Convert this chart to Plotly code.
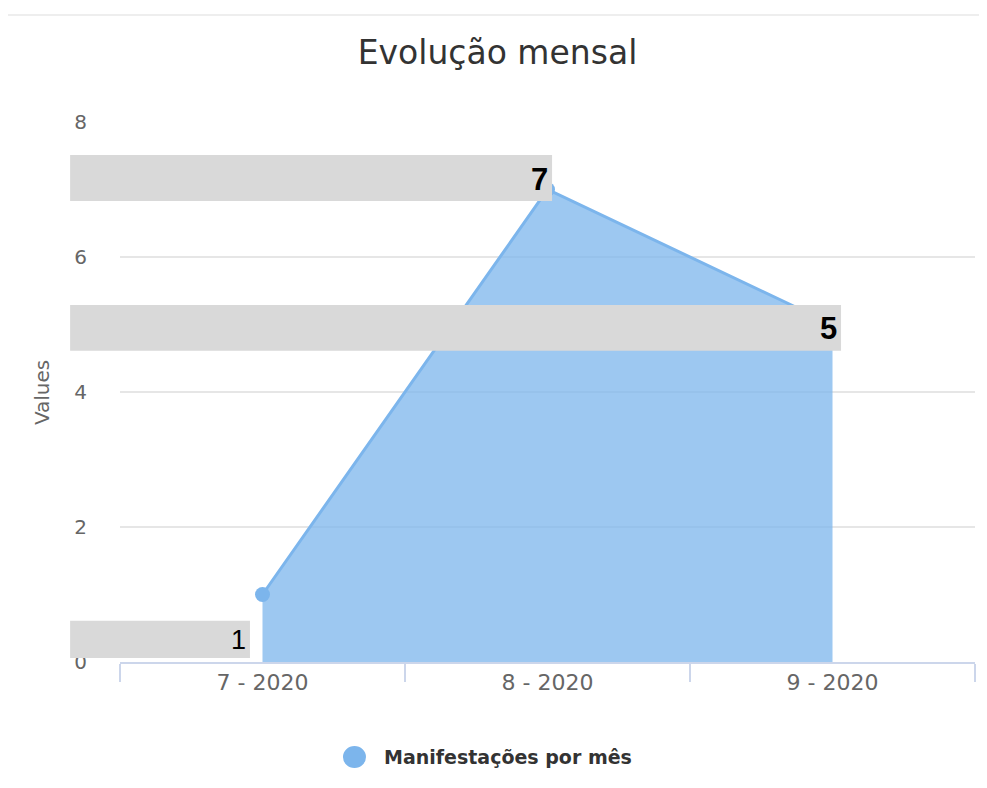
import plotly.graph_objects as go

# Data
months = ["7 - 2020", "8 - 2020", "9 - 2020"]
counts = [1, 7, 5]
series_name = "Manifestações por mês"

# gray label boxes (value shown, bold?, right edge in category units, y span)
box_text = ["7", "5", "1"]
box_bold = [True, True, False]
box_right = [1.016, 2.03, -0.044]
box_y = [(6.83, 7.51), (4.61, 5.29), (0.06, 0.61)]
box_left = -0.675

area_color = "#7cb5ec"
font_main = "DejaVu Sans, Verdana, sans-serif"
y_max = 8
n_cat = len(months)


def cat_to_paper(c):
    # category axis runs from -0.5 to n-0.5
    return (c + 0.5) / n_cat


fig = go.Figure()
fig.add_trace(go.Scatter(
    x=months, y=counts, mode="lines+markers",
    fill="tozeroy", fillcolor="rgba(124,181,236,0.75)",
    line=dict(color=area_color, width=3),
    marker=dict(color=area_color, size=15),
    showlegend=False, hoverinfo="x+y"))

# top separator line
shapes = [dict(type="line", xref="paper", yref="paper",
               x0=-0.1345, x1=1.02, y0=1.198, y1=1.198,
               line=dict(color="#eeeeee", width=2))]
annotations = []
for t, b, xr, (y0, y1) in zip(box_text, box_bold, box_right, box_y):
    shapes.append(dict(type="rect", xref="paper", yref="paper",
                       x0=cat_to_paper(box_left), x1=cat_to_paper(xr),
                       y0=y0 / y_max, y1=y1 / y_max,
                       fillcolor="#d9d9d9", line=dict(width=0), layer="above"))
    annotations.append(dict(
        x=xr, y=(y0 + y1) / 2, xref="x", yref="y",
        xanchor="right", yanchor="middle", showarrow=False,
        xshift=-2, yshift=-1,
        text=f"<b>{t}</b>" if b else t,
        font=dict(family="Liberation Sans, Arial", size=31 if b else 27, color="black")))

# legend (drawn by hand to get the big circle)
shapes.append(dict(type="circle", xref="paper", yref="paper",
                   x0=0.2608, x1=0.2877, y0=-0.1963, y1=-0.1556,
                   fillcolor=area_color, line=dict(width=0)))
annotations.append(dict(x=0.3064, y=-0.176, xref="paper", yref="paper",
                        xanchor="left", yanchor="middle", showarrow=False,
                        text=f"<b>{series_name}</b>",
                        font=dict(family=font_main, size=19, color="#333333")))
# y axis title
annotations.append(dict(x=-0.0912, y=0.498, xref="paper", yref="paper",
                        xanchor="center", yanchor="middle", showarrow=False,
                        textangle=-90, text="Values",
                        font=dict(family=font_main, size=20, color="#666666")))

fig.update_layout(
    width=979, height=780,
    margin=dict(l=112, r=12, t=114, b=126),
    paper_bgcolor="white", plot_bgcolor="white",
    title=dict(text="Evolução mensal", x=0.5, xref="container", xanchor="center",
               y=0.9436, yref="container", yanchor="middle",
               font=dict(family=font_main, size=33, color="#333333")),
    font=dict(family=font_main, color="#666666", size=21),
    showlegend=False,
    shapes=shapes, annotations=annotations,
    xaxis=dict(type="category", range=[-0.5, n_cat - 0.5], tickson="boundaries",
               ticks="outside", ticklen=18, tickcolor="#ccd6eb", tickwidth=1.5,
               showline=True, linecolor="#ccd6eb", linewidth=1.5,
               showgrid=False, tickfont=dict(size=22, color="#666666")),
    yaxis=dict(range=[0, y_max], tickvals=[0, 2, 4, 6, 8], showgrid=True,
               gridcolor="#e6e6e6", gridwidth=1.5, zeroline=False,
               ticks="outside", ticklen=28, tickcolor="rgba(0,0,0,0)",
               tickfont=dict(size=20, color="#666666")),
)

fig.write_html("out.html")
